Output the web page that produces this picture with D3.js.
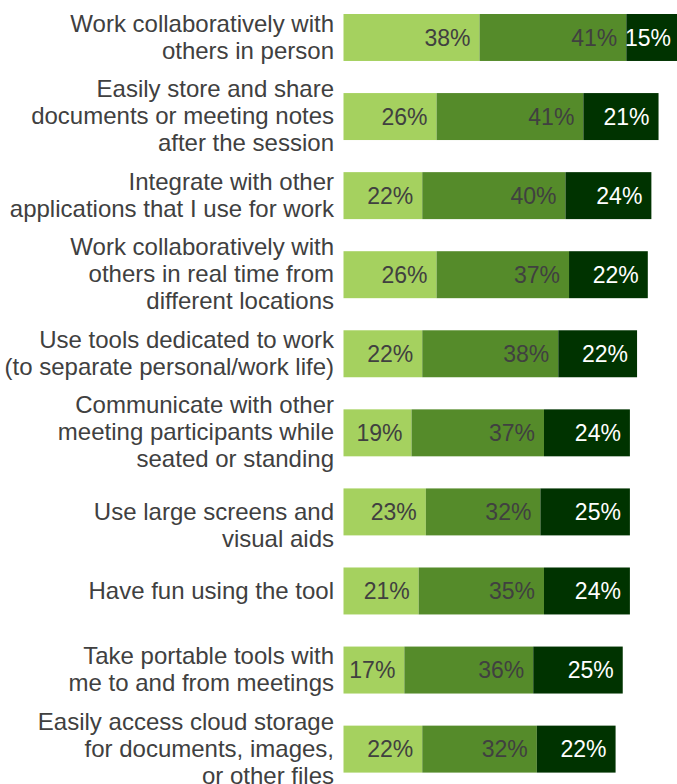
<!DOCTYPE html>
<html>
<head>
<meta charset="utf-8">
<script src="https://cdn.jsdelivr.net/npm/d3@7"></script>
<style>
  body { margin: 0; background: #fff; }
  text { font-family: "Liberation Sans", Arial, sans-serif; }
</style>
</head>
<body>
<div class="chart"></div>
<script>
// categories (line breaks as in the original)
const categories = [
  ["Work collaboratively with", "others in person"],
  ["Easily store and share", "documents or meeting notes", "after the session"],
  ["Integrate with other", "applications that I use for work"],
  ["Work collaboratively with", "others in real time from", "different locations"],
  ["Use tools dedicated to work", "(to separate personal/work life)"],
  ["Communicate with other", "meeting participants while", "seated or standing"],
  ["Use large screens and", "visual aids"],
  ["Have fun using the tool"],
  ["Take portable tools with", "me to and from meetings"],
  ["Easily access cloud storage", "for documents, images,", "or other files"]
];

const seriesNames = ["low", "mid", "high"];
const lowValues  = [38, 26, 22, 26, 22, 19, 23, 21, 17, 22];
const midValues  = [41, 41, 40, 37, 38, 37, 32, 35, 36, 32];
const highValues = [15, 21, 24, 22, 22, 24, 25, 24, 25, 22];

const width = 677;
const height = 784;

const colors = ["#a5d15f", "#558b2a", "#003300"];
const valueTextColors = ["#404040", "#404040", "#ffffff"];

// one label sits lower than its bar in the original
const labelShift = { 6: 13.5 };

const svg = d3.select(".chart")
    .append("svg")
    .attr("width", width)
    .attr("height", height);

const rows = categories.map((c, i) => ({
  idx: i,
  lines: c,
  low: lowValues[i],
  mid: midValues[i],
  high: highValues[i]
}));

const stacked = d3.stack().keys(seriesNames)(rows);

const x = d3.scaleLinear()
    .domain([0, 100])
    .range([343.5, 701.5]);

const y = d3.scaleBand()
    .domain(d3.range(rows.length))
    .range([14, 772.6])
    .paddingInner(0.406)
    .paddingOuter(0);

const layers = svg.selectAll("g.layer")
    .data(stacked)
    .enter()
    .append("g")
    .attr("class", "layer");

layers.selectAll("rect")
    .data(d => d)
    .enter()
    .append("rect")
    .attr("x", d => x(d[0]))
    .attr("y", d => y(d.data.idx))
    .attr("width", d => x(d[1]) - x(d[0]))
    .attr("height", y.bandwidth())
    .style("fill", function(d) { return colors[d3.select(this.parentNode).datum().index]; });

layers.selectAll("text")
    .data(d => d)
    .enter()
    .append("text")
    .attr("x", d => x(d[1]) - 9)
    .attr("y", d => y(d.data.idx) + y.bandwidth() / 2)
    .attr("dy", "0.36em")
    .attr("text-anchor", "end")
    .style("font-size", "23px")
    .style("fill", function(d) { return valueTextColors[d3.select(this.parentNode).datum().index]; })
    .text(function(d) {
      const key = d3.select(this.parentNode).datum().key;
      return d.data[key] + "%";
    });

// category labels
const lineHeight = 27;
const labels = svg.selectAll("text.cat")
    .data(rows)
    .enter()
    .append("text")
    .attr("class", "cat")
    .attr("text-anchor", "end")
    .style("font-size", "24px")
    .style("fill", "#404040")
    .attr("transform", function(d) {
      const cy = y(d.idx) + y.bandwidth() / 2 - 1 + (labelShift[d.idx] || 0);
      const top = cy - (d.lines.length - 1) * lineHeight / 2;
      return "translate(" + [334, top] + ")";
    });

labels.selectAll("tspan")
    .data(d => d.lines)
    .enter()
    .append("tspan")
    .attr("x", 0)
    .attr("y", (d, i) => i * lineHeight)
    .attr("dy", "0.36em")
    .text(d => d);
</script>
</body>
</html>
